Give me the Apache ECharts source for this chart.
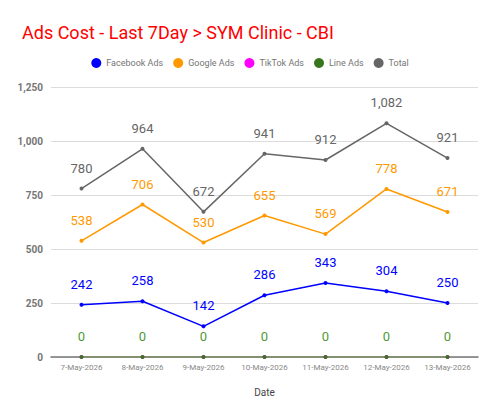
<!DOCTYPE html>
<html>
<head>
<meta charset="utf-8">
<script src="https://cdn.jsdelivr.net/npm/echarts@6/dist/echarts.min.js"></script>
<style>
  html, body { margin: 0; padding: 0; background: #fff; }
  #chart { width: 500px; height: 415px; }
</style>
</head>
<body>
<div id="chart"></div>
<script>
const dates = ["7-May-2026", "8-May-2026", "9-May-2026", "10-May-2026", "11-May-2026", "12-May-2026", "13-May-2026"];
const facebookAds = [242, 258, 142, 286, 343, 304, 250];
const googleAds = [538, 706, 530, 655, 569, 778, 671];
const tiktokAds = [0, 0, 0, 0, 0, 0, 0];
const lineAds = [0, 0, 0, 0, 0, 0, 0];
const total = [780, 964, 672, 941, 912, 1082, 921];

const chart = echarts.init(document.getElementById("chart"), null, { renderer: "svg" });

// one line series, label coloured like the line
const makeSeries = (name, data, color, opts) => ({
  name,
  type: "line",
  data,
  symbol: "circle",
  symbolSize: 4,
  showSymbol: true,
  lineStyle: { color: opts.lineColor || color, width: opts.width || 1.5 },
  itemStyle: { color },
  label: {
    show: opts.label !== false,
    position: "top",
    distance: 12,
    color: opts.labelColor || color,
    fontSize: 13,
    fontFamily: "Roboto",
    formatter: (p) => p.value.toLocaleString("en-US"),
  },
});

chart.setOption({
  backgroundColor: "#fff",
  animation: false,
  title: {
    text: "Ads Cost - Last 7Day > SYM Clinic - CBI",
    left: 17,
    top: 18,
    textStyle: { color: "#ff0000", fontSize: 18, fontWeight: "normal", fontFamily: "Roboto" },
  },
  legend: {
    top: 53,
    left: "center",
    icon: "circle",
    itemWidth: 10,
    itemHeight: 10,
    itemGap: 10,
    textStyle: { color: "#757575", fontSize: 9, fontFamily: "Roboto" },
    data: ["Facebook Ads", "Google Ads", "TikTok Ads", "Line Ads", "Total"],
  },
  grid: { left: 51, right: 22, top: 87, bottom: 58 },
  xAxis: {
    type: "category",
    data: dates,
    name: "Date",
    nameLocation: "middle",
    nameGap: 30,
    nameTextStyle: { color: "#444", fontSize: 10, fontFamily: "Roboto" },
    axisLine: { lineStyle: { color: "#777", width: 1.5 } },
    axisTick: { show: false },
    axisLabel: { color: "#888", fontSize: 8, fontFamily: "Roboto", margin: 6, interval: 0 },
  },
  yAxis: {
    type: "value",
    min: 0,
    max: 1250,
    interval: 250,
    axisLabel: {
      color: "#757575",
      fontSize: 10,
      fontWeight: "bold",
      fontFamily: "Roboto",
      formatter: (v) => v.toLocaleString("en-US"),
    },
    splitLine: { lineStyle: { color: "#dcdcdc", width: 1 } },
  },
  series: [
    makeSeries("Facebook Ads", facebookAds, "#0000ff", {}),
    makeSeries("Google Ads", googleAds, "#ff9900", {}),
    makeSeries("TikTok Ads", tiktokAds, "#ff00ff", { label: false, width: 1 }),
    makeSeries("Line Ads", lineAds, "#38761d", { lineColor: "#6aa84f", labelColor: "#4f9a35", width: 1.5 }),
    makeSeries("Total", total, "#666666", {}),
  ],
});
</script>
</body>
</html>
